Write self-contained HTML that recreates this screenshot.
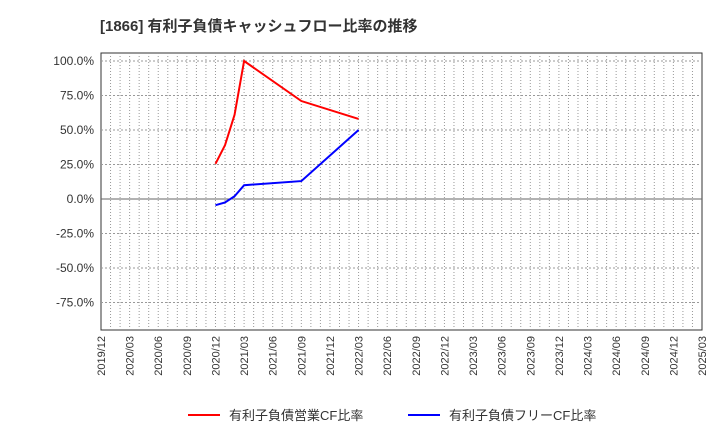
<!DOCTYPE html>
<html><head><meta charset="utf-8"><style>
body{margin:0;background:#fff;font-family:"Liberation Sans","Noto Sans CJK JP",sans-serif}
</style></head><body>
<svg width="720" height="440" xmlns="http://www.w3.org/2000/svg">
<text x="100" y="31" font-size="15" font-weight="bold" fill="#333" font-family="Liberation Sans,Noto Sans CJK JP,sans-serif">[1866]  有利子負債キャッシュフロー比率の推移</text>
<g id="grid"></g><g id="axes"></g><g id="series"></g>
<g font-size="13" fill="#333" font-family="Liberation Sans,Noto Sans CJK JP,sans-serif">
<line x1="188" y1="415" x2="220" y2="415" stroke="#f00" stroke-width="2"/>
<text x="229" y="420">有利子負債営業CF比率</text>
<line x1="408" y1="415" x2="440" y2="415" stroke="#00f" stroke-width="2"/>
<text x="449" y="420">有利子負債フリーCF比率</text>
</g>
</svg>
<script>
const xLabels=["2019/12","2020/03","2020/06","2020/09","2020/12","2021/03","2021/06","2021/09","2021/12","2022/03","2022/06","2022/09","2022/12","2023/03","2023/06","2023/09","2023/12","2024/03","2024/06","2024/09","2024/12","2025/03"];
const yTicks=[100,75,50,25,0,-25,-50,-75];
// months since 2019/12
const redMonths=[12,13,14,15,21,27];
const redValues=[25.5,39,61,100,71,58];
const blueMonths=[12,13,14,15,21,27];
const blueValues=[-4.5,-2.5,2,10,13,50];
const NS="http://www.w3.org/2000/svg";
const L=101,R=702,T=53,B=330;
const X=m=>L+(R-L)*m/63;
const Y=v=>199-v*(34.5/25);
function mk(p,t,a){const e=document.createElementNS(NS,t);for(const k in a)e.setAttribute(k,a[k]);p.appendChild(e);return e;}
const g=document.getElementById('grid'),ax=document.getElementById('axes'),s=document.getElementById('series');
mk(g,'rect',{x:L,y:T,width:R-L,height:B-T,fill:'#fff',stroke:'#333','stroke-width':1});
for(let m=1;m<63;m++){const l=mk(g,'line',{x1:X(m),x2:X(m),y1:T,y2:B,stroke:'#999','stroke-dasharray':'1,2','stroke-width':1});

}
yTicks.forEach(v=>{const l=mk(g,'line',{x1:L,x2:R,y1:Y(v),y2:Y(v),stroke:v===0?'#666':'#999','stroke-dasharray':v===0?'':'2,2','stroke-width':1});


const t=mk(ax,'text',{x:L-7,y:Y(v)+4,'text-anchor':'end','font-size':12,fill:'#333'});t.textContent=v.toFixed(1)+'%';

});
xLabels.forEach((lb,i)=>{const x=X(i*3);const t=mk(ax,'text',{x:x+4,y:B+6,'text-anchor':'end','font-size':11,fill:'#333',transform:`rotate(-90 ${x+4} ${B+6})`});t.textContent=lb;

});
function line(ms,vs,c,n){const p=mk(s,'polyline',{points:ms.map((m,i)=>X(m)+','+Y(vs[i])).join(' '),fill:'none',stroke:c,'stroke-width':2});

}
line(redMonths,redValues,'#f00','operating-cf-ratio-line');
line(blueMonths,blueValues,'#00f','free-cf-ratio-line');
</script>
</body></html>
